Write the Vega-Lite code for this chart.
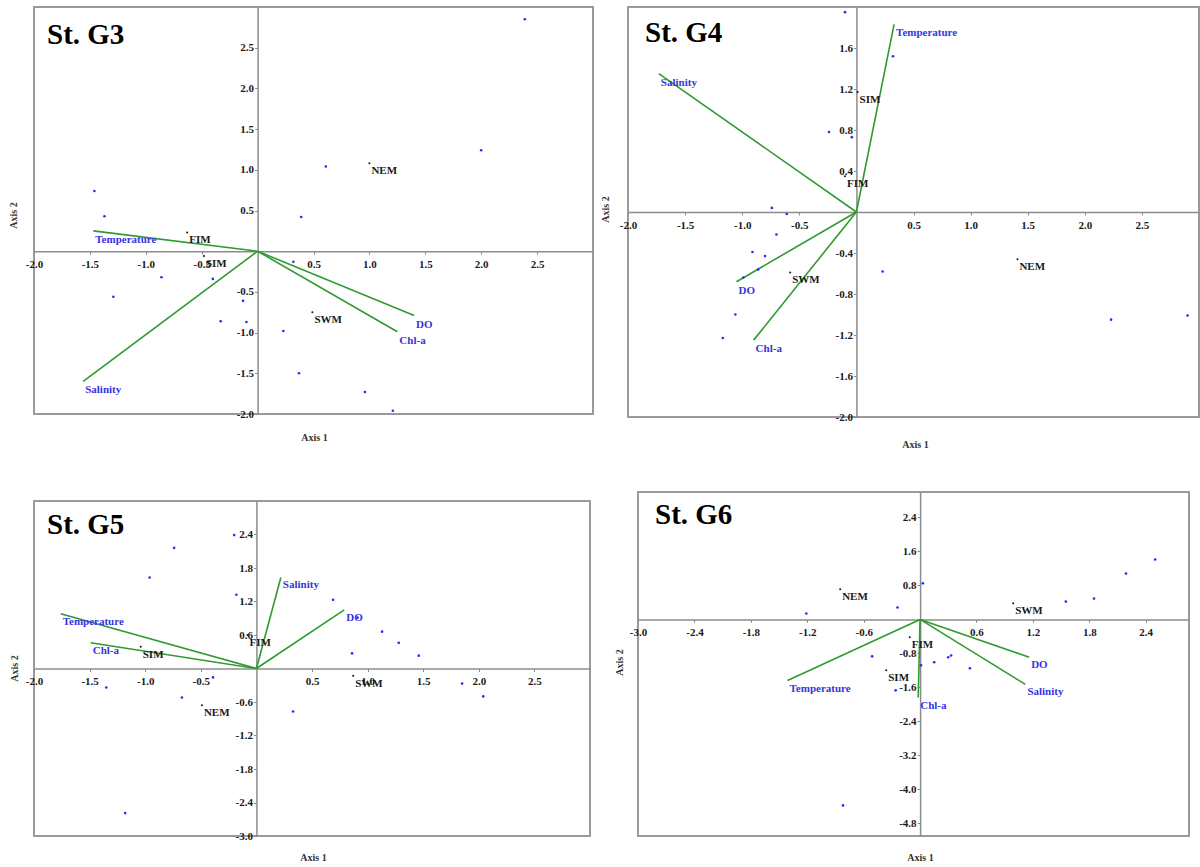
{
  "$schema": "https://vega.github.io/schema/vega-lite/v6.json",
  "padding": {"left": 7, "top": 6, "right": 0, "bottom": 0},
  "background": "white",
  "datasets": {
    "g3p": [{"x":-1.46,"y":0.74},{"x":-1.37,"y":0.43},{"x":2.39,"y":2.85},{"x":2.0,"y":1.24},{"x":0.61,"y":1.04},{"x":0.39,"y":0.42},{"x":-0.86,"y":-0.32},{"x":-1.29,"y":-0.56},{"x":-0.4,"y":-0.34},{"x":-0.13,"y":-0.61},{"x":-0.33,"y":-0.86},{"x":-0.1,"y":-0.87},{"x":0.23,"y":-0.98},{"x":0.37,"y":-1.5},{"x":0.32,"y":-0.13},{"x":0.96,"y":-1.73},{"x":1.21,"y":-1.96}],
    "g3s": [{"s":"NEM","x":1.0,"y":1.08},{"s":"FIM","x":-0.63,"y":0.23},{"s":"SIM","x":-0.48,"y":-0.06},{"s":"SWM","x":0.49,"y":-0.75}],
    "g3v": [{"v":"Temperature","x":-1.47,"y":0.25},{"v":"Salinity","x":-1.56,"y":-1.6},{"v":"DO","x":1.4,"y":-0.79},{"v":"Chl-a","x":1.25,"y":-0.99}],
    "g4p": [{"x":-0.1,"y":1.95},{"x":0.32,"y":1.52},{"x":-0.24,"y":0.78},{"x":-0.04,"y":0.73},{"x":-0.74,"y":0.04},{"x":-0.61,"y":-0.02},{"x":-0.7,"y":-0.22},{"x":-0.91,"y":-0.39},{"x":-0.8,"y":-0.43},{"x":-0.86,"y":-0.56},{"x":-0.99,"y":-0.64},{"x":-1.06,"y":-1.0},{"x":-1.17,"y":-1.23},{"x":0.23,"y":-0.58},{"x":2.23,"y":-1.05},{"x":2.9,"y":-1.01}],
    "g4s": [{"s":"SIM","x":0.01,"y":1.17},{"s":"FIM","x":-0.1,"y":0.35},{"s":"SWM","x":-0.58,"y":-0.59},{"s":"NEM","x":1.41,"y":-0.46}],
    "g4v": [{"v":"Salinity","x":-1.73,"y":1.35},{"v":"Temperature","x":0.33,"y":1.83},{"v":"DO","x":-1.05,"y":-0.68},{"v":"Chl-a","x":-0.9,"y":-1.25}],
    "g5p": [{"x":-0.2,"y":2.39},{"x":-0.74,"y":2.16},{"x":-0.96,"y":1.63},{"x":-0.18,"y":1.32},{"x":-0.39,"y":-0.16},{"x":-1.35,"y":-0.34},{"x":0.69,"y":1.23},{"x":1.13,"y":0.66},{"x":1.28,"y":0.46},{"x":0.86,"y":0.27},{"x":1.46,"y":0.23},{"x":1.85,"y":-0.27},{"x":2.04,"y":-0.5},{"x":-0.67,"y":-0.52},{"x":0.33,"y":-0.77},{"x":-1.18,"y":-2.59},{"x":0.91,"y":0.91}],
    "g5s": [{"s":"FIM","x":-0.08,"y":0.6},{"s":"SIM","x":-1.04,"y":0.39},{"s":"NEM","x":-0.49,"y":-0.66},{"s":"SWM","x":0.87,"y":-0.13}],
    "g5v": [{"v":"Temperature","x":-1.76,"y":0.98},{"v":"Chl-a","x":-1.49,"y":0.46},{"v":"Salinity","x":0.22,"y":1.63},{"v":"DO","x":0.79,"y":1.05}],
    "g6p": [{"x":-2.11,"y":2.61},{"x":-1.21,"y":0.14},{"x":-0.24,"y":0.28},{"x":0.03,"y":0.85},{"x":-0.51,"y":-0.87},{"x":1.55,"y":0.42},{"x":1.85,"y":0.49},{"x":2.19,"y":1.08},{"x":2.5,"y":1.41},{"x":0.01,"y":-1.08},{"x":0.15,"y":-1.01},{"x":0.3,"y":-0.89},{"x":0.33,"y":-0.85},{"x":0.53,"y":-1.15},{"x":-0.82,"y":-4.38},{"x":-0.26,"y":-1.67}],
    "g6s": [{"s":"NEM","x":-0.85,"y":0.71},{"s":"SWM","x":0.99,"y":0.38},{"s":"FIM","x":-0.11,"y":-0.42},{"s":"SIM","x":-0.36,"y":-1.2}],
    "g6v": [{"v":"Temperature","x":-1.41,"y":-1.44},{"v":"DO","x":1.16,"y":-0.89},{"v":"Salinity","x":1.12,"y":-1.53},{"v":"Chl-a","x":-0.02,"y":-1.84}]
  },
  "spacing": 5,
  "hconcat": [
    {
      "spacing": 87,
      "bounds": "flush",
      "vconcat": [
        {
          "width": 559, "height": 407,
          "layer": [
            {"data": {"name": "g3v"}, "mark": {"type": "rule", "color": "#2f9a2f", "strokeWidth": 1.6},
             "encoding": {
               "x": {"field": "x", "type": "quantitative", "scale": {"domain": [-2, 3], "nice": false, "zero": false},
                     "axis": {"values": [-2,-1.5,-1,-0.5,0.5,1,1.5,2,2.5], "format": ".1f", "offset": -162.8, "title": "Axis 1", "titleX": 280, "titleY": 186}},
               "y": {"field": "y", "type": "quantitative", "scale": {"domain": [-2, 3], "nice": false, "zero": false},
                     "axis": {"values": [2.5,2,1.5,1,0.5,-0.5,-1,-1.5,-2], "format": ".1f", "offset": -223.6, "title": "Axis 2", "titleX": -244, "titleY": 208}},
               "x2": {"datum": 0}, "y2": {"datum": 0}}},
            {"data": {"name": "g3p"}, "mark": {"type": "circle", "size": 7, "color": "#2b2bff", "opacity": 1},
             "encoding": {"x": {"field": "x", "type": "quantitative"}, "y": {"field": "y", "type": "quantitative"}}},
            {"data": {"name": "g3s"}, "mark": {"type": "circle", "size": 4, "color": "#111", "opacity": 1},
             "encoding": {"x": {"field": "x", "type": "quantitative"}, "y": {"field": "y", "type": "quantitative"}}},
            {"data": {"name": "g3s"}, "mark": {"type": "text", "align": "left", "baseline": "middle", "dx": 2, "dy": 8, "font": "Liberation Serif", "fontWeight": "bold", "fontSize": 11, "color": "#1a1a1a"},
             "encoding": {"x": {"field": "x", "type": "quantitative"}, "y": {"field": "y", "type": "quantitative"}, "text": {"field": "s", "type": "nominal"}}},
            {"data": {"name": "g3v"}, "mark": {"type": "text", "align": "left", "baseline": "middle", "dx": 2, "dy": 9, "font": "Liberation Serif", "fontWeight": "bold", "fontSize": 11, "color": "#3535e0"},
             "encoding": {"x": {"field": "x", "type": "quantitative"}, "y": {"field": "y", "type": "quantitative"}, "text": {"field": "v", "type": "nominal"}}},
            {"data": {"values": [{"t": "St. G3", "x": -2, "y": 3}]}, "mark": {"type": "text", "align": "left", "baseline": "alphabetic", "dx": 13, "dy": 37, "font": "Liberation Serif", "fontWeight": "bold", "fontSize": 29, "color": "#000"},
             "encoding": {"x": {"field": "x", "type": "quantitative"}, "y": {"field": "y", "type": "quantitative"}, "text": {"field": "t", "type": "nominal"}}}
          ]
        },
        {
          "width": 556, "height": 335,
          "layer": [
            {"data": {"name": "g5v"}, "mark": {"type": "rule", "color": "#2f9a2f", "strokeWidth": 1.6},
             "encoding": {
               "x": {"field": "x", "type": "quantitative", "scale": {"domain": [-2, 3], "nice": false, "zero": false},
                     "axis": {"values": [-2,-1.5,-1,-0.5,0.5,1,1.5,2,2.5], "format": ".1f", "offset": -167.5, "title": "Axis 1", "titleX": 279, "titleY": 189}},
               "y": {"field": "y", "type": "quantitative", "scale": {"domain": [-3, 3], "nice": false, "zero": false},
                     "axis": {"values": [2.4,1.8,1.2,0.6,-0.6,-1.2,-1.8,-2.4,-3.0], "format": ".1f", "offset": -222.4, "title": "Axis 2", "titleX": -242, "titleY": 167}},
               "x2": {"datum": 0}, "y2": {"datum": 0}}},
            {"data": {"name": "g5p"}, "mark": {"type": "circle", "size": 7, "color": "#2b2bff", "opacity": 1},
             "encoding": {"x": {"field": "x", "type": "quantitative"}, "y": {"field": "y", "type": "quantitative"}}},
            {"data": {"name": "g5s"}, "mark": {"type": "circle", "size": 4, "color": "#111", "opacity": 1},
             "encoding": {"x": {"field": "x", "type": "quantitative"}, "y": {"field": "y", "type": "quantitative"}}},
            {"data": {"name": "g5s"}, "mark": {"type": "text", "align": "left", "baseline": "middle", "dx": 2, "dy": 8, "font": "Liberation Serif", "fontWeight": "bold", "fontSize": 11, "color": "#1a1a1a"},
             "encoding": {"x": {"field": "x", "type": "quantitative"}, "y": {"field": "y", "type": "quantitative"}, "text": {"field": "s", "type": "nominal"}}},
            {"data": {"name": "g5v"}, "mark": {"type": "text", "align": "left", "baseline": "middle", "dx": 2, "dy": 8, "font": "Liberation Serif", "fontWeight": "bold", "fontSize": 11, "color": "#3535e0"},
             "encoding": {"x": {"field": "x", "type": "quantitative"}, "y": {"field": "y", "type": "quantitative"}, "text": {"field": "v", "type": "nominal"}}},
            {"data": {"values": [{"t": "St. G5", "x": -2, "y": 3}]}, "mark": {"type": "text", "align": "left", "baseline": "alphabetic", "dx": 13, "dy": 33, "font": "Liberation Serif", "fontWeight": "bold", "fontSize": 29, "color": "#000"},
             "encoding": {"x": {"field": "x", "type": "quantitative"}, "y": {"field": "y", "type": "quantitative"}, "text": {"field": "t", "type": "nominal"}}}
          ]
        }
      ]
    },
    {
      "spacing": 75,
      "bounds": "flush",
      "center": true,
      "vconcat": [
        {
          "width": 571, "height": 410,
          "layer": [
            {"data": {"name": "g4v"}, "mark": {"type": "rule", "color": "#2f9a2f", "strokeWidth": 1.6},
             "encoding": {
               "x": {"field": "x", "type": "quantitative", "scale": {"domain": [-2, 3], "nice": false, "zero": false},
                     "axis": {"values": [-2,-1.5,-1,-0.5,0.5,1,1.5,2,2.5], "format": ".1f", "offset": -205, "title": "Axis 1", "titleX": 287, "titleY": 232}},
               "y": {"field": "y", "type": "quantitative", "scale": {"domain": [-2, 2], "nice": false, "zero": false},
                     "axis": {"values": [1.6,1.2,0.8,0.4,-0.4,-0.8,-1.2,-1.6,-2.0], "format": ".1f", "offset": -228.4, "title": "Axis 2", "titleX": -251, "titleY": 202}},
               "x2": {"datum": 0}, "y2": {"datum": 0}}},
            {"data": {"name": "g4p"}, "mark": {"type": "circle", "size": 7, "color": "#2b2bff", "opacity": 1},
             "encoding": {"x": {"field": "x", "type": "quantitative"}, "y": {"field": "y", "type": "quantitative"}}},
            {"data": {"name": "g4s"}, "mark": {"type": "circle", "size": 4, "color": "#111", "opacity": 1},
             "encoding": {"x": {"field": "x", "type": "quantitative"}, "y": {"field": "y", "type": "quantitative"}}},
            {"data": {"name": "g4s"}, "mark": {"type": "text", "align": "left", "baseline": "middle", "dx": 2, "dy": 8, "font": "Liberation Serif", "fontWeight": "bold", "fontSize": 11, "color": "#1a1a1a"},
             "encoding": {"x": {"field": "x", "type": "quantitative"}, "y": {"field": "y", "type": "quantitative"}, "text": {"field": "s", "type": "nominal"}}},
            {"data": {"name": "g4v"}, "mark": {"type": "text", "align": "left", "baseline": "middle", "dx": 2, "dy": 9, "font": "Liberation Serif", "fontWeight": "bold", "fontSize": 11, "color": "#3535e0"},
             "encoding": {"x": {"field": "x", "type": "quantitative"}, "y": {"field": "y", "type": "quantitative"}, "text": {"field": "v", "type": "nominal"}}},
            {"data": {"values": [{"t": "St. G4", "x": -2, "y": 2}]}, "mark": {"type": "text", "align": "left", "baseline": "alphabetic", "dx": 17, "dy": 35, "font": "Liberation Serif", "fontWeight": "bold", "fontSize": 29, "color": "#000"},
             "encoding": {"x": {"field": "x", "type": "quantitative"}, "y": {"field": "y", "type": "quantitative"}, "text": {"field": "t", "type": "nominal"}}}
          ]
        },
        {
          "width": 551, "height": 344,
          "layer": [
            {"data": {"name": "g6v"}, "mark": {"type": "rule", "color": "#2f9a2f", "strokeWidth": 1.6},
             "encoding": {
               "x": {"field": "x", "type": "quantitative", "scale": {"domain": [-3, 2.86], "nice": false, "zero": false},
                     "axis": {"values": [-3,-2.4,-1.8,-1.2,-0.6,0.6,1.2,1.8,2.4], "format": ".1f", "offset": -216.6, "title": "Axis 1", "titleX": 282, "titleY": 238}},
               "y": {"field": "y", "type": "quantitative", "scale": {"domain": [-5.1, 3], "nice": false, "zero": false},
                     "axis": {"values": [2.4,1.6,0.8,-0.8,-1.6,-2.4,-3.2,-4.0,-4.8], "format": ".1f", "offset": -282.1, "title": "Axis 2", "titleX": -301, "titleY": 170}},
               "x2": {"datum": 0}, "y2": {"datum": 0}}},
            {"data": {"name": "g6p"}, "mark": {"type": "circle", "size": 7, "color": "#2b2bff", "opacity": 1},
             "encoding": {"x": {"field": "x", "type": "quantitative"}, "y": {"field": "y", "type": "quantitative"}}},
            {"data": {"name": "g6s"}, "mark": {"type": "circle", "size": 4, "color": "#111", "opacity": 1},
             "encoding": {"x": {"field": "x", "type": "quantitative"}, "y": {"field": "y", "type": "quantitative"}}},
            {"data": {"name": "g6s"}, "mark": {"type": "text", "align": "left", "baseline": "middle", "dx": 2, "dy": 8, "font": "Liberation Serif", "fontWeight": "bold", "fontSize": 11, "color": "#1a1a1a"},
             "encoding": {"x": {"field": "x", "type": "quantitative"}, "y": {"field": "y", "type": "quantitative"}, "text": {"field": "s", "type": "nominal"}}},
            {"data": {"name": "g6v"}, "mark": {"type": "text", "align": "left", "baseline": "middle", "dx": 2, "dy": 8, "font": "Liberation Serif", "fontWeight": "bold", "fontSize": 11, "color": "#3535e0"},
             "encoding": {"x": {"field": "x", "type": "quantitative"}, "y": {"field": "y", "type": "quantitative"}, "text": {"field": "v", "type": "nominal"}}},
            {"data": {"values": [{"t": "St. G6", "x": -3, "y": 3}]}, "mark": {"type": "text", "align": "left", "baseline": "alphabetic", "dx": 17, "dy": 32, "font": "Liberation Serif", "fontWeight": "bold", "fontSize": 29, "color": "#000"},
             "encoding": {"x": {"field": "x", "type": "quantitative"}, "y": {"field": "y", "type": "quantitative"}, "text": {"field": "t", "type": "nominal"}}}
          ]
        }
      ]
    }
  ],
  "config": {
    "view": {"stroke": "#9a9a9a", "strokeWidth": 2},
    "axis": {
      "grid": false,
      "labelFont": "Liberation Serif", "labelFontWeight": "bold", "labelFontSize": 11, "labelColor": "#1a1a1a",
      "labelExpr": "replace(datum.label, '\u2212', '-')",
      "labelFlush": false, "labelOverlap": false, "labelPadding": 4,
      "domainColor": "#8c8c8c", "domainWidth": 1.5, "tickColor": "#8c8c8c", "tickSize": 3, "tickWidth": 1,
      "titleFont": "Liberation Serif", "titleFontWeight": "bold", "titleFontSize": 10, "titleColor": "#333333", "titleBaseline": "middle"
    },
    "axisY": {"labelPadding": 1}
  }
}
